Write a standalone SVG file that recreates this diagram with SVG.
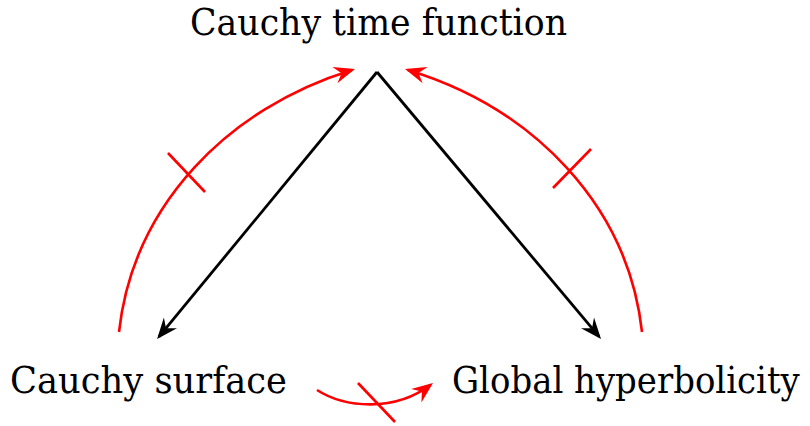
<svg xmlns="http://www.w3.org/2000/svg" width="810" height="426" viewBox="0 0 810 426">
<style>
.lbl{font-family:'DejaVu Serif',serif;font-size:37px;fill:#000}
.blk{fill:none;stroke:#000;stroke-width:2.8}
.red{fill:none;stroke:#ff0000;stroke-width:2.6}
</style>
<defs>
<marker id="ab" markerUnits="userSpaceOnUse" viewBox="-24 -11 28 22" refX="-3" refY="0" markerWidth="28" markerHeight="22" orient="auto">
<path d="M0,0 L-21,-8.5 L-14,0 L-21,8.5 Z" fill="#000"/>
</marker>
<marker id="ar" markerUnits="userSpaceOnUse" viewBox="-24 -11 28 22" refX="-3" refY="0" markerWidth="28" markerHeight="22" orient="auto">
<path d="M0,0 L-21,-8.5 L-14,0 L-21,8.5 Z" fill="#ff0000"/>
</marker>
</defs>
<rect width="810" height="426" fill="#fff"/>
<g id="node-ctf"><text class="lbl" x="190" y="35" textLength="377" lengthAdjust="spacingAndGlyphs">Cauchy time function</text></g>
<g id="node-cs"><text class="lbl" x="10" y="393" textLength="277" lengthAdjust="spacingAndGlyphs">Cauchy surface</text></g>
<g id="node-gh"><text class="lbl" transform="translate(452,393) scale(0.92,1)" x="0" y="0" textLength="378" lengthAdjust="spacingAndGlyphs">Global hyperbolicity</text></g>
<g id="connectors">
<path class="blk" d="M377,72 L599.1,336.7" marker-end="url(#ab)"/>
<path class="blk" d="M377,72 L159,336.7" marker-end="url(#ab)"/>
<path class="red" d="M119,332 C133,205 228,108 352.1,69.9" marker-end="url(#ar)"/>
<path class="red" d="M168,153 L205,192"/>
<path class="red" d="M642,332 C628,205 533,108 407.9,69.9" marker-end="url(#ar)"/>
<path class="red" d="M591,149 L553,188"/>
<path class="red" d="M317,390 C345,408 395,412 430.6,384.8" marker-end="url(#ar)"/>
<path class="red" d="M358,383 L395,422"/>
</g>
</svg>
